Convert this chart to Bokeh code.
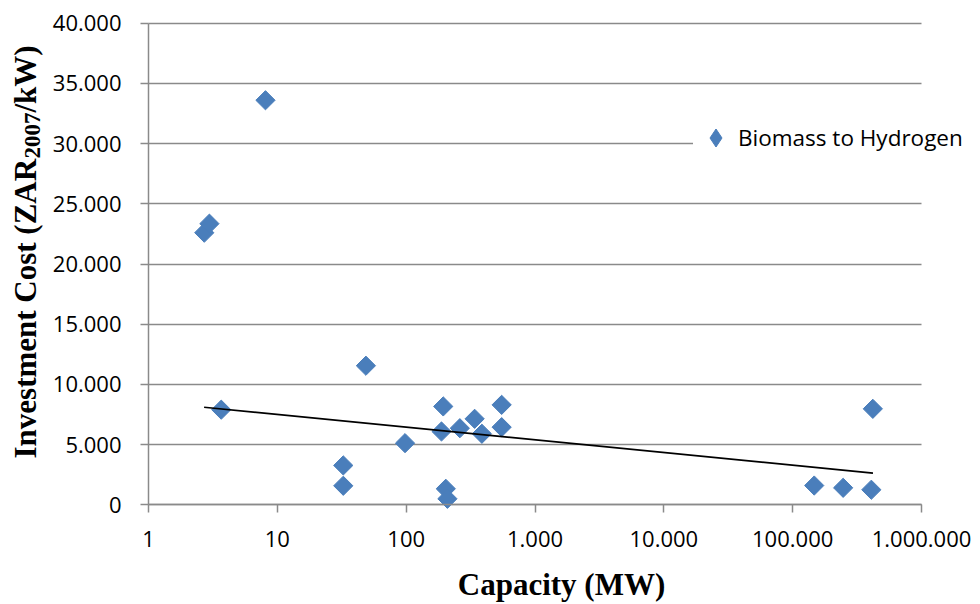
import numpy as np
from bokeh.plotting import figure
from bokeh.models import Range1d, FixedTicker, Label, Legend, LegendItem
from bokeh.embed import file_html
from bokeh.resources import INLINE

# ---- data ----
series_name = "Biomass to Hydrogen"
capacity_mw = [2.71, 2.97, 8.09, 3.67, 48.7, 32.5, 32.5, 98, 194, 188, 203, 209,
               261, 340, 387, 551, 551, 147000, 246500, 408000, 419000]
investment_cost = [22600, 23350, 33600, 7900, 11550, 3270, 1580, 5120, 8170, 6090, 1330, 500,
                   6360, 7140, 5900, 8300, 6450, 1600, 1410, 1250, 7970]
# logarithmic trend line (straight on the log axis) read at its two ends
trend_capacity = [2.7, 420000]
trend_cost = [8100, 2630]

x_ticks = [1, 10, 100, 1000, 10000, 100000, 1000000]
x_tick_labels = ["1", "10", "100", "1.000", "10.000", "100.000", "1.000.000"]
y_ticks = [0, 5000, 10000, 15000, 20000, 25000, 30000, 35000, 40000]
y_tick_labels = ["0", "5.000", "10.000", "15.000", "20.000", "25.000", "30.000", "35.000", "40.000"]

x_title = "Capacity (MW)"
y_title_main = "Investment Cost (ZAR"
y_title_sub = "2007"
y_title_tail = "/kW)"

# ---- layout (pixels) ----
W, H = 980, 604
PX_XMIN, PX_XMAX = 148.0, 921.0      # where x=1 and x=1e6 sit
PX_Y0, PX_YMAX = 504.3, 22.7         # where y=0 and y=40000 sit
GRID = "#8a8a8a"
BLUE = "#4a7ebb"

xmin, xmax = x_ticks[0], x_ticks[-1]
ymin, ymax = y_ticks[0], y_ticks[-1]
dec_px = (PX_XMAX - PX_XMIN) / (np.log10(xmax) - np.log10(xmin))
x_start = 10 ** (np.log10(xmin) - PX_XMIN / dec_px)
x_end = 10 ** (np.log10(xmax) + (W - PX_XMAX) / dec_px)
u_per_px = (ymax - ymin) / (PX_Y0 - PX_YMAX)
y_start = ymin - (H - PX_Y0) * u_per_px
y_end = ymax + PX_YMAX * u_per_px

p = figure(width=W, height=H, x_axis_type="log",
           x_range=Range1d(x_start, x_end), y_range=Range1d(y_start, y_end),
           output_backend="svg", toolbar_location=None,
           min_border_left=0, min_border_right=0, min_border_top=0, min_border_bottom=0)
p.outline_line_color = None
p.background_fill_color = "white"
p.border_fill_color = "white"

# axes drawn at fixed data locations inside the full-canvas frame
p.xaxis.fixed_location = ymin
p.yaxis.fixed_location = xmin
p.xaxis.bounds = (xmin, xmax)
p.yaxis.bounds = (ymin, ymax)
p.xaxis.ticker = FixedTicker(ticks=x_ticks)
p.xaxis.major_label_overrides = {t: l for t, l in zip(x_ticks, x_tick_labels)}
p.yaxis.ticker = FixedTicker(ticks=y_ticks)
p.yaxis.major_label_overrides = {t: l for t, l in zip(y_ticks, y_tick_labels)}
for ax in (p.xaxis, p.yaxis):
    ax.axis_line_color = GRID
    ax.axis_line_width = 1.5
    ax.major_tick_line_color = GRID
    ax.major_tick_line_width = 1.5
    ax.major_tick_in = 0
    ax.major_tick_out = 8
    ax.minor_tick_line_color = None
    ax.major_label_text_font = "Open Sans"
    ax.major_label_text_font_size = "22px"
    ax.major_label_text_color = "black"
p.xaxis.major_label_standoff = 18
p.yaxis.major_label_standoff = 19

p.xgrid.grid_line_color = None
g = p.ygrid[0]
g.grid_line_color = GRID
g.grid_line_width = 1.5
g.bounds = (ymin, ymax)
if "cross_bounds" in g.properties():
    g.cross_bounds = (xmin, xmax)
else:
    g.grid_line_color = None
    p.segment(x0=[xmin] * len(y_ticks), x1=[xmax] * len(y_ticks), y0=y_ticks, y1=y_ticks,
              line_color=GRID, line_width=1.5, level="underlay")

r = p.scatter(capacity_mw, investment_cost, marker="square", angle=np.pi / 4, size=13.6,
              fill_color=BLUE, line_color=BLUE)
p.line(trend_capacity, trend_cost, line_color="black", line_width=1.7)

# legend key: a diamond proxy (the legend draws markers unrotated)
key = p.scatter(x=[np.nan], y=[np.nan], marker="diamond", fill_color=BLUE, line_color=BLUE)
legend = Legend(items=[LegendItem(label=series_name, renderers=[key])],
                location=(693, 604 - 160), orientation="vertical",
                label_text_font="Open Sans", label_text_font_size="22.5px",
                label_text_color="black",
                glyph_width=45, glyph_height=45, label_standoff=-14,
                padding=0, margin=0, border_line_color=None,
                background_fill_color="white", background_fill_alpha=1.0)
p.add_layout(legend)

# axis titles (Times-like bold serif), in canvas pixels
title_font = "Liberation Serif"
p.add_layout(Label(x=561, y=584, x_units="canvas", y_units="canvas", text=x_title,
                   text_font=title_font, text_font_style="bold", text_font_size="31px",
                   text_align="center", text_baseline="alphabetic", text_color="black"))
p.add_layout(Label(x=25, y=458, x_units="canvas", y_units="canvas", text=y_title_main,
                   angle=np.pi / 2, text_font=title_font, text_font_style="bold",
                   text_font_size="31px", text_align="left", text_baseline="alphabetic",
                   text_color="black"))
p.add_layout(Label(x=32, y=158, x_units="canvas", y_units="canvas", text=y_title_sub,
                   angle=np.pi / 2, text_font=title_font, text_font_style="bold",
                   text_font_size="23px", text_align="left", text_baseline="alphabetic",
                   text_color="black"))
p.add_layout(Label(x=25, y=112, x_units="canvas", y_units="canvas", text=y_title_tail,
                   angle=np.pi / 2, text_font=title_font, text_font_style="bold",
                   text_font_size="31px", text_align="left", text_baseline="alphabetic",
                   text_color="black"))

open("out.html", "w").write(file_html(p, INLINE))
